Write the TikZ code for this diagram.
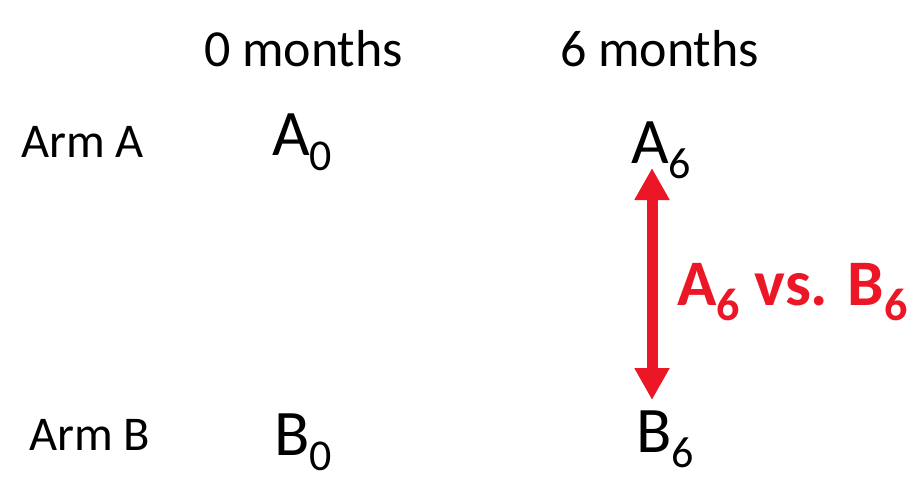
\documentclass[tikz,border=0pt]{standalone}
\usepackage{fontspec}
\setmainfont{Carlito}
\usetikzlibrary{arrows.meta}
\definecolor{armred}{RGB}{235,22,38}
\newcommand{\bigsub}[2]{#1\raisebox{-15pt}{\fontsize{44}{44}\selectfont #2}}
\tikzset{
  lbl/.style={anchor=base west, inner sep=0pt, outer sep=0pt},
  head/.style={lbl, font=\fontsize{52}{52}\selectfont},
  arm/.style={lbl, font=\fontsize{48.5}{48.5}\selectfont},
  val/.style={lbl, font=\fontsize{65}{65}\selectfont},
  cmp/.style={lbl, text=armred, font=\fontsize{65}{65}\selectfont\bfseries},
  dbl/.style={draw=armred, line width=11pt, {Triangle[width=33pt,length=32pt]}-{Triangle[width=33pt,length=32pt]}}
}
\begin{document}
\begin{tikzpicture}[x=1pt,y=-1pt]
\useasboundingbox (0,0) rectangle (918,490);
\node[head] (h0) at (204,66) {0 months};
\node[head] (h6) at (560,66) {6 months};
\node[arm] (armA) at (21,157) {Arm A};
\node[arm] (armB) at (29,450) {Arm B};
\node[val] (A0) at (272,155) {\bigsub{A}{0}};
\node[val] (A6) at (631,163) {\bigsub{A}{6}};
\node[val] (B0) at (274,455) {\bigsub{B}{0}};
\node[val] (B6) at (636,452) {\bigsub{B}{6}};
\node[cmp] (cmp) at (677,305) {A\raisebox{-15pt}{\fontsize{46}{46}\selectfont 6} vs. B\raisebox{-15pt}{\fontsize{46}{46}\selectfont 6}};
\coordinate (top) at (652,168);
\coordinate (bot) at (652,400);
\draw[dbl] (top) -- (bot);
\end{tikzpicture}
\end{document}
